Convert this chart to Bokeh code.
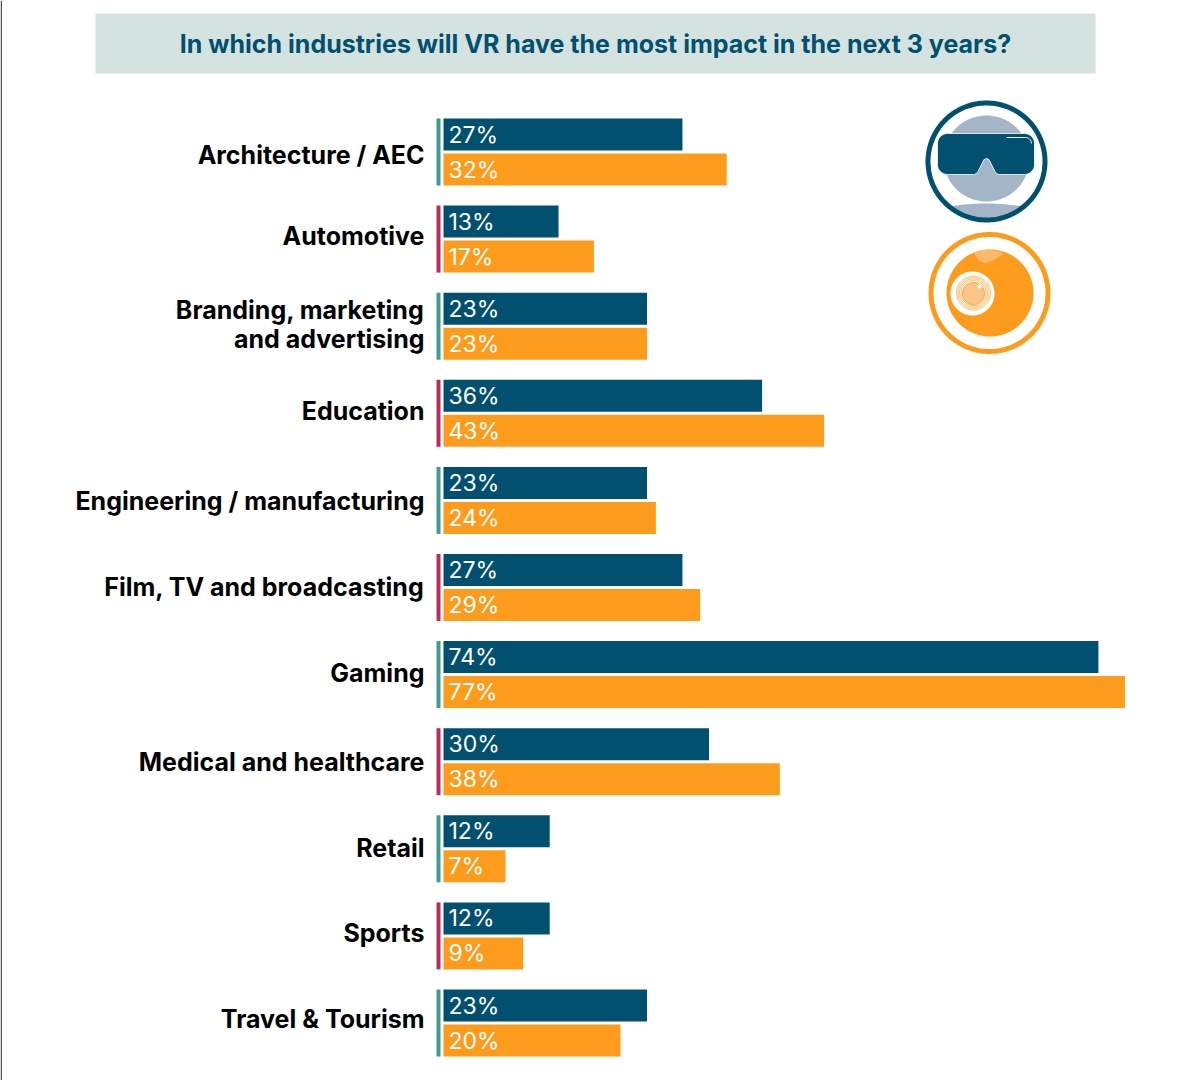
import numpy as np
from bokeh.core.properties import value
from bokeh.embed import file_html
from bokeh.models import ColumnDataSource, Range1d
from bokeh.plotting import figure
from bokeh.resources import INLINE

TITLE = "In which industries will VR have the most impact in the next 3 years?"
categories = ["Architecture / AEC", "Automotive", "Branding, marketing\nand advertising", "Education",
              "Engineering / manufacturing", "Film, TV and broadcasting", "Gaming",
              "Medical and healthcare", "Retail", "Sports", "Travel & Tourism"]
series_blue = [27, 13, 23, 36, 23, 27, 74, 30, 12, 12, 23]
series_orange = [32, 17, 23, 43, 24, 29, 77, 38, 7, 9, 20]
label_nudge_px = [3, -3, -2, -2, 1, -1, -2, 0, -1, -3, -4]

BLUE, ORANGE = "#01506f", "#fd9c1c"
TEAL, CRIMSON = "#3f9c8f", "#b92d5d"
FONT = "Inter"

W, H = 1192, 1080
X0_PX, X_SCALE = 443, 8.85
ROW0_PX, ROW_PITCH = 151.5, 87.1
LINE_GAP_PX = 29

p = figure(width=W, height=H, output_backend="svg", toolbar_location=None,
           x_range=Range1d(-X0_PX / X_SCALE, (W - X0_PX) / X_SCALE),
           y_range=Range1d((H - ROW0_PX) / ROW_PITCH, -ROW0_PX / ROW_PITCH),
           min_border=0, outline_line_color=None, background_fill_color="white")
p.axis.visible = False
p.grid.visible = False
p.extra_x_ranges["px"] = Range1d(0, W)
p.extra_y_ranges["px"] = Range1d(H, 0)
PX = dict(x_range_name="px", y_range_name="px")

rows = np.arange(len(categories), dtype=float)
bar_h = 32 / ROW_PITCH
off_blue = -17.5 / ROW_PITCH
off_orange = 17.5 / ROW_PITCH
tick_colors = [TEAL if i % 2 == 0 else CRIMSON for i in range(len(categories))]
src = ColumnDataSource(dict(
    y=rows, yb=rows + off_blue, yo=rows + off_orange,
    blue=series_blue, orange=series_orange,
    bt=[f"{v}%" for v in series_blue], ot=[f"{v}%" for v in series_orange],
    tick=tick_colors,
))

# category labels, one text per line
lab_text, lab_y = [], []
for i, cat in enumerate(categories):
    lines = cat.split("\n")
    for k, line in enumerate(lines):
        lab_text.append(line)
        lab_y.append(i + (label_nudge_px[i] + (k - (len(lines) - 1) / 2) * LINE_GAP_PX) / ROW_PITCH)
lab_src = ColumnDataSource(dict(y=lab_y, text=lab_text))

# page edge line and title band
p.quad(left=0, right=1.5, top=0, bottom=1080, fill_color="#555555", line_color=None, **PX)
p.quad(left=95, right=1095, top=13, bottom=73, fill_color="#d5e3e0", line_color=None, **PX)
p.text(x=[595], y=[43], text=[TITLE], text_font=value(FONT), text_font_style="bold",
       text_font_size="25px", text_color=BLUE, text_align="center", text_baseline="middle", **PX)

# bars
p.hbar(y="yb", left=0, right="blue", height=bar_h, fill_color=BLUE, line_color=None, source=src)
p.hbar(y="yo", left=0, right="orange", height=bar_h, fill_color=ORANGE, line_color=None, source=src)
p.hbar(y="y", left=-7 / X_SCALE, right=-3 / X_SCALE, height=67 / ROW_PITCH, fill_color="tick",
       line_color=None, source=src)

# labels
p.text(x=0, y="yb", text="bt", x_offset=5, text_color="white", text_font_size="23px",
       text_font=value(FONT), text_baseline="middle", source=src)
p.text(x=0, y="yo", text="ot", x_offset=5, text_color="white", text_font_size="23px",
       text_font=value(FONT), text_baseline="middle", source=src)
p.text(x=0, y="y", text="text", x_offset=-19, text_align="right", text_color="black",
       text_font_style="bold", text_font_size="25px", text_font=value(FONT),
       text_baseline="middle", source=lab_src)


# --- decorative pictograms (page-pixel coordinates) ---
def ring(cx, cy, r):
    a = np.linspace(0, 2 * np.pi, 181)
    return cx + r * np.cos(a), cy + r * np.sin(a)


def disc(cx, cy, r, color):
    x, y = ring(cx, cy, r)
    p.patch(x, y, fill_color=color, line_color=None, **PX)


def circle_line(cx, cy, r, color, w):
    x, y = ring(cx, cy, r)
    p.line(x, y, line_color=color, line_width=w, **PX)


def arc(cx, cy, r, a0, a1, n=12):
    a = np.radians(np.linspace(a0, a1, n))
    return list(cx + r * np.cos(a)), list(cy + r * np.sin(a))


# headset
disc(986, 158, 43, "#a3b5c6")
xs = np.linspace(953, 1020, 30)
top = 203 + 0.00225 * (xs - 986) ** 2
bot = 161 + np.sqrt(np.maximum(58 ** 2 - (xs - 986) ** 2, 0))
p.patch(np.r_[xs, xs[::-1]], np.r_[top, bot[::-1]], fill_color="#a3b5c6", line_color=None, **PX)
circle_line(986, 161, 58.5, BLUE, 5)
gx, gy = [], []
for seg in [arc(947, 143, 10, 180, 270), arc(1024, 143, 10, 270, 360), arc(1024, 164, 10, 0, 90)]:
    gx += seg[0]; gy += seg[1]
gx += [998, 995, 988.5, 986, 983.5, 977, 974]
gy += [174, 172, 159, 158, 159, 172, 174]
seg = arc(947, 164, 10, 90, 180)
gx += seg[0]; gy += seg[1]
p.patch(gx, gy, fill_color=BLUE, line_color="white", line_width=0.8, **PX)
hx, hy = arc(1025, 143, 6, 270, 360)
p.line([1006] + hx, [137] + hy, line_color="white", line_width=1, **PX)

# camera
circle_line(989, 292.5, 58.5, ORANGE, 5)
disc(989.5, 292.5, 43.5, ORANGE)
p.patch([973, 978, 985, 993, 1003, 995, 985], [252, 260, 263, 260, 253, 250, 249],
        fill_color="#fdb96b", line_color=None, **PX)
disc(972, 293, 22, "white")
for r in (12.5, 14, 15.5, 17):
    circle_line(973, 292.5, r, ORANGE, 0.7)
disc(973, 293, 11, "#fbc58a")
circle_line(973, 293, 11, ORANGE, 1)
disc(979, 286, 2, "white")

open("out.html", "w").write(file_html(p, INLINE))
